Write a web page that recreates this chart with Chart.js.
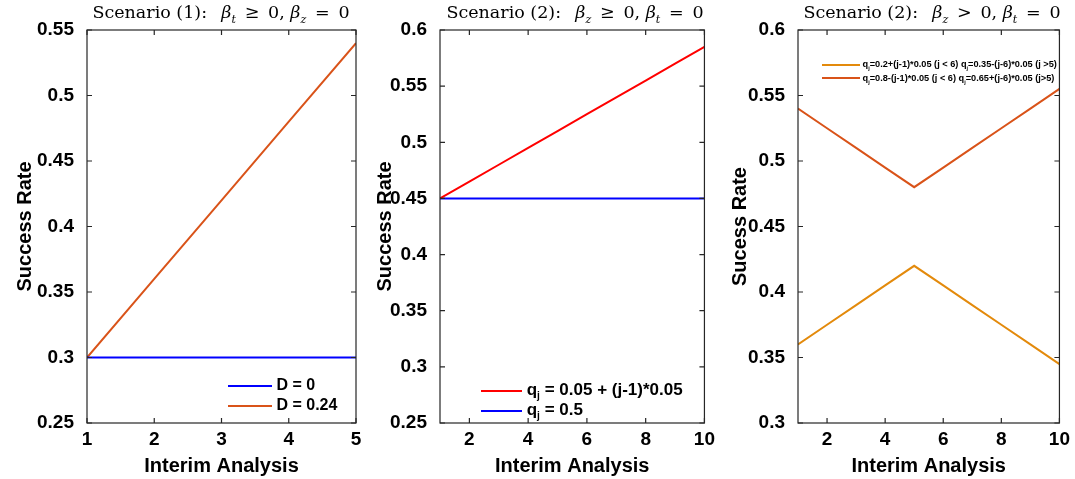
<!DOCTYPE html>
<html>
<head>
<meta charset="utf-8">
<script src="https://cdn.jsdelivr.net/npm/chart.js@4"></script>
<style>
  body { margin: 0; background: #fff; }
  #wrap { position: relative; width: 1075px; height: 479px; overflow: hidden; }
  canvas { position: absolute; top: 0; }
  .ttl { position: absolute; top: 2px; font-family: "DejaVu Serif", serif; font-size: 17.5px; color: #000; white-space: nowrap; transform: translateX(-50%); }
  .ttl sub { font-size: 11px; line-height: 0; }
  .leg { position: absolute; font-family: "Liberation Sans", Arial, sans-serif; font-weight: bold; color: #000; white-space: nowrap; }
  .leg .row { position: relative; }
  .leg .ln { display: inline-block; vertical-align: middle; height: 2px; }
  .leg sub { font-size: 0.6em; line-height: 0; }
</style>
</head>
<body>
<div id="wrap">
  <canvas id="c1" width="370" height="479" style="left:0px;width:370px;height:479px"></canvas>
  <canvas id="c2" width="360" height="479" style="left:360px;width:360px;height:479px"></canvas>
  <canvas id="c3" width="355" height="479" style="left:720px;width:355px;height:479px"></canvas>

  <div class="ttl" style="left:221px">Scenario (1): &ensp;<i>β</i><sub><i>t</i></sub>&ensp;≥&ensp;0, <i>β</i><sub><i>z</i></sub>&ensp;=&ensp;0</div>
  <div class="ttl" style="left:575px">Scenario (2): &ensp;<i>β</i><sub><i>z</i></sub>&ensp;≥&ensp;0, <i>β</i><sub><i>t</i></sub>&ensp;=&ensp;0</div>
  <div class="ttl" style="left:932px">Scenario (2): &ensp;<i>β</i><sub><i>z</i></sub>&ensp;&gt;&ensp;0, <i>β</i><sub><i>t</i></sub>&ensp;=&ensp;0</div>

  <div class="leg" style="left:228px;top:375px;font-size:16px;line-height:20px">
    <div class="row"><span class="ln" style="width:44px;background:#0000ff"></span> D = 0</div>
    <div class="row"><span class="ln" style="width:44px;background:#D95319"></span> D = 0.24</div>
  </div>
  <div class="leg" style="left:481px;top:380px;font-size:17px;line-height:20px">
    <div class="row"><span class="ln" style="width:41px;background:#ff0000"></span> q<sub>j</sub> = 0.05 + (j-1)*0.05</div>
    <div class="row"><span class="ln" style="width:41px;background:#0000ff"></span> q<sub>j</sub> = 0.5</div>
  </div>
  <div class="leg" style="left:822px;top:58px;font-size:9.2px;line-height:13.5px">
    <div class="row"><span class="ln" style="width:38px;background:#E38A0C"></span> q<sub>j</sub>=0.2+(j-1)*0.05 (j &lt; 6) q<sub>j</sub>=0.35-(j-6)*0.05 (j &gt;5)</div>
    <div class="row"><span class="ln" style="width:38px;background:#D95319"></span> q<sub>j</sub>=0.8-(j-1)*0.05 (j &lt; 6) q<sub>j</sub>=0.65+(j-6)*0.05 (j&gt;5)</div>
  </div>
</div>
<script>
// panel 1: Scenario (1)
var x1 = [1, 2, 3, 4, 5];
var d0 = [0.30, 0.30, 0.30, 0.30, 0.30];
var d24 = [0.30, 0.36, 0.42, 0.48, 0.54];
var yTicks1 = [0.25, 0.3, 0.35, 0.4, 0.45, 0.5, 0.55];
var xTicks1 = [1, 2, 3, 4, 5];

// panel 2: Scenario (2), beta_z >= 0
var x2 = [1, 2, 3, 4, 5, 6, 7, 8, 9, 10];
var qInc = [0.45, 0.465, 0.48, 0.495, 0.51, 0.525, 0.54, 0.555, 0.57, 0.585];
var qFlat = [0.45, 0.45, 0.45, 0.45, 0.45, 0.45, 0.45, 0.45, 0.45, 0.45];
var yTicks2 = [0.25, 0.3, 0.35, 0.4, 0.45, 0.5, 0.55, 0.6];
var xTicks2 = [2, 4, 6, 8, 10];

// panel 3: Scenario (2), beta_z > 0
var x3 = [1, 2, 3, 4, 5, 6, 7, 8, 9, 10];
var qUpDown = [0.36, 0.375, 0.39, 0.405, 0.42, 0.405, 0.39, 0.375, 0.36, 0.345];
var qDownUp = [0.54, 0.525, 0.51, 0.495, 0.48, 0.495, 0.51, 0.525, 0.54, 0.555];
var yTicks3 = [0.3, 0.35, 0.4, 0.45, 0.5, 0.55, 0.6];
var xTicks3 = [2, 4, 6, 8, 10];

var tickFont = { family: "Liberation Sans", size: 19, weight: "bold" };
var titleFont = { family: "Liberation Sans", size: 20, weight: "bold" };

// box + inward ticks, matlab style
var boxPlugin = {
    id: "box",
    afterDraw: function (chart) {
        var ctx = chart.ctx, a = chart.chartArea;
        var xs = chart.scales.x, ys = chart.scales.y;
        ctx.save();
        ctx.strokeStyle = "#262626";
        ctx.lineWidth = 1.2;
        ctx.strokeRect(a.left, a.top, a.right - a.left, a.bottom - a.top);
        ctx.beginPath();
        xs.ticks.forEach(function (t) {
            var px = xs.getPixelForValue(t.value);
            ctx.moveTo(px, a.bottom); ctx.lineTo(px, a.bottom - 5);
            ctx.moveTo(px, a.top); ctx.lineTo(px, a.top + 5);
        });
        ys.ticks.forEach(function (t) {
            var py = ys.getPixelForValue(t.value);
            ctx.moveTo(a.left, py); ctx.lineTo(a.left + 5, py);
            ctx.moveTo(a.right, py); ctx.lineTo(a.right - 5, py);
        });
        ctx.stroke();
        ctx.restore();
    }
};

function makeChart(id, xs, sets, xMin, xMax, xTicks, yTicks, yTitle, yWidth, yTitlePad, padRight) {
    var datasets = sets.map(function (s) {
        return {
            data: s.vals.map(function (v, i) { return { x: xs[i], y: v }; }),
            borderColor: s.color,
            borderWidth: 2,
            pointRadius: 0,
            fill: false,
            tension: 0
        };
    });
    return new Chart(document.getElementById(id), {
        type: "line",
        data: { datasets: datasets },
        options: {
            responsive: false,
            animation: false,
            layout: { padding: { top: 30, right: padRight, bottom: 0, left: 0 } },
            plugins: { legend: { display: false }, tooltip: { enabled: false } },
            scales: {
                x: {
                    type: "linear",
                    min: xMin, max: xMax,
                    afterBuildTicks: function (s) { s.ticks = xTicks.map(function (v) { return { value: v }; }); },
                    afterFit: function (s) { s.height = 56; },
                    grid: { display: false, drawTicks: false, tickLength: 0 },
                    border: { display: false },
                    ticks: { font: tickFont, color: "#000", padding: 5, maxRotation: 0 },
                    title: { display: true, text: "Interim Analysis", font: titleFont, color: "#000", padding: { top: 0, bottom: 1 } }
                },
                y: {
                    type: "linear",
                    min: yTicks[0], max: yTicks[yTicks.length - 1],
                    afterBuildTicks: function (s) { s.ticks = yTicks.map(function (v) { return { value: v }; }); },
                    afterFit: function (s) { s.width = yWidth; },
                    grid: { display: false },
                    border: { display: false },
                    ticks: {
                        font: tickFont, color: "#000", padding: 5,
                        callback: function (v) { return String(parseFloat(v.toFixed(2))); }
                    },
                    title: { display: true, text: yTitle, font: titleFont, color: "#000", padding: { top: yTitlePad, bottom: 0 } }
                }
            }
        },
        plugins: [boxPlugin]
    });
}

makeChart("c1", x1, [
    { vals: d0, color: "#0000ff" },
    { vals: d24, color: "#D95319" }
], 1, 5, xTicks1, yTicks1, "Success Rate", 87, 13, 14);

makeChart("c2", x2, [
    { vals: qInc, color: "#ff0000" },
    { vals: qFlat, color: "#0000ff" }
], 1, 10, xTicks2, yTicks2, "Success Rate", 80, 13, 9);

makeChart("c3", x3, [
    { vals: qUpDown, color: "#E38A0C" },
    { vals: qDownUp, color: "#D95319" }
], 1, 10, xTicks3, yTicks3, "Sucess Rate", 78, 8, 8);
</script>
</body>
</html>
